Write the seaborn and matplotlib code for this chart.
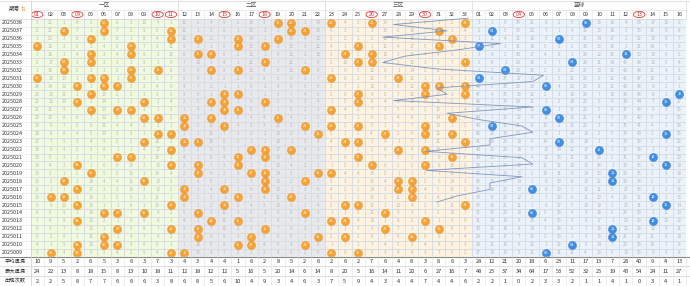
import numpy as np
import seaborn as sns
import matplotlib.pyplot as plt
from matplotlib.colors import ListedColormap
from matplotlib.patches import Ellipse, Rectangle

# ---------- data ----------
issues = ['2025038', '2025037', '2025036', '2025035', '2025034', '2025033',
          '2025032', '2025031', '2025030', '2025029', '2025028', '2025027',
          '2025026', '2025025', '2025024', '2025023', '2025022', '2025021',
          '2025020', '2025019', '2025018', '2025017', '2025016', '2025015',
          '2025014', '2025013', '2025012', '2025011', '2025010', '2025009']

red_draws = [
    [6, 19, 20, 23, 26, 33], [3, 6, 11, 20, 21, 31], [5, 11, 13, 16, 19, 32],
    [1, 8, 16, 18, 25, 31], [5, 8, 13, 14, 24, 26], [3, 5, 18, 25, 26, 33],
    [3, 8, 10, 14, 16, 21], [1, 5, 6, 8, 23, 28], [4, 6, 7, 30, 31, 33],
    [5, 15, 16, 25, 30, 33], [4, 9, 14, 15, 18, 25], [5, 7, 8, 15, 16, 23],
    [9, 10, 12, 14, 19, 32], [12, 15, 21, 23, 25, 30], [10, 11, 22, 27, 30, 32],
    [9, 12, 13, 24, 25, 33], [11, 17, 18, 20, 28, 30], [7, 8, 16, 18, 25, 32],
    [4, 11, 13, 16, 26, 30], [5, 13, 17, 18, 22, 23], [3, 9, 18, 21, 28, 29],
    [4, 12, 15, 18, 28, 29], [2, 3, 12, 16, 20, 29], [4, 11, 15, 24, 25, 33],
    [6, 7, 9, 13, 21, 27], [4, 14, 16, 23, 24, 30], [7, 11, 13, 18, 27, 31],
    [6, 13, 17, 22, 24, 29], [4, 6, 7, 16, 17, 21], [2, 4, 11, 12, 23, 25],
]
blue_draws = [9, 2, 7, 1, 12, 8, 3, 1, 6, 16, 15, 6, 7, 2, 15,
              7, 10, 14, 15, 11, 11, 5, 14, 15, 5, 14, 11, 11, 8, 6]

# omission before 2025009 (estimated)
red_miss_start = [2, 5, 3, 2, 8, 4, 3, 1, 4, 3, 2, 5, 16, 3, 6, 2, 1,
                  2, 3, 2, 1, 4, 3, 5, 2, 5, 2, 3, 3, 2, 6, 4, 1]
blue_miss_start = [26, 9, 14, 4, 10, 3, 20, 10, 3, 12, 5, 18, 24, 8, 5, 7]

circled_red = [1, 4, 10, 11, 15, 18, 26, 30]
circled_blue = [4, 13]

zones = ['一区', '二区', '三区', '蓝球']
stat_labels = ['平均遗漏', '最大遗漏', '出现次数']
avg_miss = [10, 9, 5, 2, 6, 5, 3, 6, 3, 7, 3,
            4, 3, 4, 4, 1, 6, 2, 8, 5, 2, 6,
            2, 6, 2, 7, 6, 4, 8, 3, 8, 6, 3,
            28, 12, 21, 20, 18, 6, 23, 11, 17, 13, 7, 26, 40, 9, 4, 13]
max_miss = [24, 22, 13, 8, 18, 15, 8, 13, 10, 18, 11,
            12, 18, 12, 12, 5, 16, 5, 20, 14, 6, 14,
            8, 20, 5, 16, 14, 11, 20, 6, 27, 16, 7,
            48, 25, 37, 34, 64, 17, 53, 52, 32, 25, 19, 43, 54, 24, 11, 27]
hit_count = [2, 2, 5, 8, 7, 7, 6, 6, 6, 3, 8,
             6, 8, 5, 6, 10, 4, 9, 3, 4, 6, 3,
             7, 5, 9, 4, 3, 4, 4, 7, 4, 4, 6,
             2, 2, 1, 0, 2, 3, 3, 2, 1, 1, 4, 1, 0, 3, 4, 1]

# ---------- build matrices ----------
N_RED, N_BLUE = 33, 16
n_rows, n_cols = len(issues), N_RED + N_BLUE

hit = np.zeros((n_rows, n_cols), dtype=bool)
for r, (reds, b) in enumerate(zip(red_draws, blue_draws)):
    for n in reds:
        hit[r, n - 1] = True
    hit[r, N_RED + b - 1] = True

miss = np.zeros((n_rows, n_cols), dtype=int)
start = red_miss_start + blue_miss_start
for c in range(n_cols):
    m = start[c]
    for r in range(n_rows - 1, -1, -1):
        m = 0 if hit[r, c] else m + 1
        miss[r, c] = m
annot = np.where(hit, '', miss.astype(str))

zone_idx = np.array([0] * 11 + [1] * 11 + [2] * 11 + [3] * 16)
zone_mat = np.tile(zone_idx, (n_rows, 1))

# ---------- layout (pixels) ----------
W, H = 690, 286
GX0, GX1 = 30.5, 686.0
HEAD = 18.7
ROW_H = 7.93
GY1 = HEAD + n_rows * ROW_H
STAT_H = (H - GY1) / 3
CW = (GX1 - GX0) / n_cols

sns.set_theme(style='white')
plt.rcParams['font.family'] = ['Noto Sans CJK SC', 'DejaVu Sans']

fig = plt.figure(figsize=(W / 100, H / 100), dpi=100)
ax = fig.add_axes([GX0 / W, 1 - GY1 / H, (GX1 - GX0) / W, (GY1 - HEAD) / H])

zone_cmap = ListedColormap(['#effadf', '#e8e9ed', '#fdf3e0', '#eaf2fb'])
sns.heatmap(zone_mat, ax=ax, cmap=zone_cmap, vmin=-0.5, vmax=3.5, cbar=False,
            annot=annot, fmt='', linewidths=0.4, linecolor='#d9dce1',
            annot_kws={'size': 3.2, 'color': '#b8b8b8'},
            xticklabels=False, yticklabels=False)

# balls
rr, cc = np.nonzero(hit)
ball_x = cc + 0.5
ball_y = rr + 0.5
is_blue = cc >= N_RED
sns.scatterplot(x=ball_x[~is_blue], y=ball_y[~is_blue], ax=ax, s=34,
                color='#f7a234', edgecolor='#ec8d1c', linewidth=0.3, zorder=3)
sns.scatterplot(x=ball_x[is_blue], y=ball_y[is_blue], ax=ax, s=34,
                color='#3f8fe6', edgecolor='#2c78d0', linewidth=0.3, zorder=3)
for r, c in zip(rr, cc):
    num = c + 1 if c < N_RED else c - N_RED + 1
    ax.text(c + 0.5, r + 0.5, f'{num:02d}', ha='center', va='center',
            fontsize=2.8, color='white', zorder=4)

# ---------- overlay: header, labels, stats, line ----------
ov = fig.add_axes([0, 0, 1, 1], facecolor='none')
ov.set_xlim(0, W)
ov.set_ylim(H, 0)
ov.axis('off')

def col_x(c):
    return GX0 + (c + 0.5) * CW

# header
ov.text(14, 9.5, '期号', ha='center', va='center', fontsize=4.1, color='#333333')
ov.text(23, 9.5, '⇅', ha='center', va='center', fontsize=4, color='#f08c1c',
        family='DejaVu Sans')
zone_spans = [(0, 11), (11, 22), (22, 33), (33, 49)]
for name, (a, b) in zip(zones, zone_spans):
    ov.text((col_x(a) + col_x(b - 1)) / 2, 5.3, name, ha='center', va='center',
            fontsize=4.1, color='#555555')
    ov.plot([GX0 + a * CW] * 2, [0.5, HEAD], color='#d6d6d6', lw=0.5)
ov.plot([GX1, GX1], [0.5, HEAD], color='#d6d6d6', lw=0.5)
ov.plot([GX0, GX1], [10.2, 10.2], color='#e2e2e2', lw=0.5)
ov.plot([0, W], [0.5, 0.5], color='#d6d6d6', lw=0.5)
for c in range(n_cols):
    num = c + 1 if c < N_RED else c - N_RED + 1
    circled = (c < N_RED and num in circled_red) or (c >= N_RED and num in circled_blue)
    ov.text(col_x(c), 14.6, f'{num:02d}', ha='center', va='center', fontsize=3.9,
            color='#d03030' if circled else '#333333')
    if circled:
        ov.add_patch(Ellipse((col_x(c), 14.5), CW * 0.85, 6.2, fill=False,
                             edgecolor='#e03a3a', lw=0.6))
    ov.plot([GX0 + c * CW] * 2, [10.2, HEAD], color='#e2e2e2', lw=0.4)

# issue labels
for r, iss in enumerate(issues):
    y = HEAD + (r + 0.5) * ROW_H
    ov.text(2, y, iss, ha='left', va='center', fontsize=3.9, color='#333333')
    ov.plot([0, GX0], [HEAD + (r + 1) * ROW_H] * 2, color='#e4e4e4', lw=0.4)
ov.plot([0, GX0], [HEAD, HEAD], color='#d6d6d6', lw=0.5)

# blue route line (drawn at 0.8 scale as in the original page)
bx = [0.8 * col_x(N_RED + b - 1) for b in blue_draws]
by = [0.8 * (HEAD + (r + 0.5) * ROW_H) for r in range(n_rows)]
ov.plot(bx, by, color='#8196c0', lw=0.6, zorder=5)

# stats rows
ov.add_patch(Rectangle((0, GY1), W, H - GY1, color='white', zorder=1))
ov.plot([0, W], [GY1, GY1], color='#8a8a8a', lw=0.8, zorder=2)
for i, (lab, vals) in enumerate(zip(stat_labels, [avg_miss, max_miss, hit_count])):
    y = GY1 + (i + 0.5) * STAT_H
    ov.text(15, y, lab, ha='center', va='center', fontsize=3.8, color='#333333', zorder=3)
    for c, v in enumerate(vals):
        ov.text(col_x(c), y, str(v), ha='center', va='center', fontsize=4.1,
                color='#333333', zorder=3)
    if i > 0:
        ov.plot([0, W], [GY1 + i * STAT_H] * 2, color='#d0d0d0', lw=0.5, zorder=2)
for c in range(n_cols + 1):
    ov.plot([GX0 + c * CW] * 2, [GY1, H], color='#e0e0e0', lw=0.4, zorder=2)
ov.plot([GX0, GX0], [0.5, H], color='#d6d6d6', lw=0.5, zorder=2)

fig.savefig('out.png', dpi=100)
